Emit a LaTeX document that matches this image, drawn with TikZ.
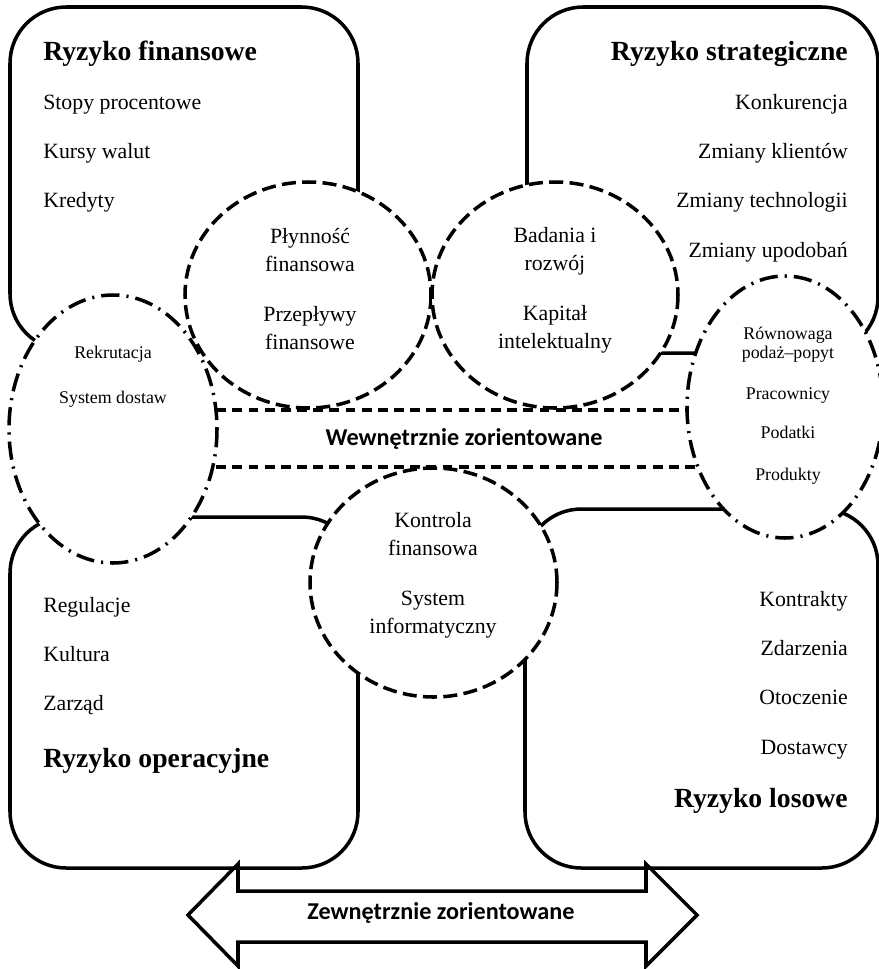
\documentclass[tikz,border=0pt]{standalone}
\usepackage{fontspec}
\setmainfont{Liberation Serif}
\newfontfamily\bannerfont{Carlito}
\tikzset{
    riskbox/.style={line width=2.5pt, rounded corners=40pt},
    dashring/.style={draw, fill=white, line width=2.5pt, dash pattern=on 10pt off 4.5pt},
    dotring/.style={draw, fill=white, line width=2.5pt, dash pattern=on 13pt off 5pt on 1.5pt off 5pt},
    innerline/.style={line width=2.5pt, dash pattern=on 7pt off 4.5pt},
    riskhead/.style={inner sep=0pt, font=\fontsize{19.7}{23}\selectfont\bfseries},
    riskitem/.style={inner sep=0pt, font=\fontsize{15.5}{18}\selectfont},
    sideitem/.style={inner sep=0pt, font=\fontsize{12.7}{15}\selectfont},
    banner/.style={inner sep=0pt, font=\bannerfont\bfseries\fontsize{17.2}{20}\selectfont}
}
\begin{document}
\begin{tikzpicture}[x=0.025cm, y=-0.025cm]
    \useasboundingbox (0,0) rectangle (879,969);
    \clip (0,0) rectangle (879,969);

    % Risk boxes
    \draw[riskbox] (10,7) rectangle (358,350);
    \draw[riskbox] (527,7) rectangle (878,353);
    \draw[riskbox] (10,517) rectangle (358,868);
    \draw[riskbox] (525,509) rectangle (878,868);

    % Outer arrow
    \draw[line width=2.5pt] (188,915) -- (238,864) -- (238,891) -- (646,891) -- (646,864)
        -- (697,915) -- (646,966) -- (646,942) -- (238,942) -- (238,966) -- cycle;

    % Inner band
    \draw[innerline] (200,410) -- (700,410);
    \draw[innerline] (200,467) -- (700,467);

    % Centres
    \coordinate (liq) at (308,295);
    \coordinate (rnd) at (555,295);
    \coordinate (ctl) at (433.5,582.5);
    \coordinate (hr) at (113,429);
    \coordinate (mkt) at (785,407);

    % Circles
    \draw[dotring] (hr) ellipse [x radius=104, y radius=134];
    \draw[dotring] (mkt) ellipse [x radius=98, y radius=131];
    \draw[dashring] (liq) ellipse [x radius=123, y radius=113];
    \draw[dashring] (rnd) ellipse [x radius=123, y radius=113];
    \draw[dashring] (ctl) ellipse [x radius=123.5, y radius=114.5];

    % Box texts
    \node[riskhead, anchor=base west] (finhead) at (43,60) {Ryzyko finansowe};
    \foreach \txt [count=\i] in {Stopy procentowe, Kursy walut, Kredyty}
        \node[riskitem, anchor=base west] (fin\i) at (43,60+49.3*\i) {\txt};

    \node[riskhead, anchor=base east] (strathead) at (848,60) {Ryzyko strategiczne};
    \foreach \txt [count=\i] in {Konkurencja, Zmiany klientów, Zmiany technologii, Zmiany upodobań}
        \node[riskitem, anchor=base east] (strat\i) at (848,60+49.3*\i) {\txt};

    \foreach \txt [count=\i] in {Regulacje, Kultura, Zarząd}
        \node[riskitem, anchor=base west] (oper\i) at (43,563+49.3*\i) {\txt};
    \node[riskhead, anchor=base west] (operhead) at (43,767) {Ryzyko operacyjne};

    \foreach \txt [count=\i] in {Kontrakty, Zdarzenia, Otoczenie, Dostawcy}
        \node[riskitem, anchor=base east] (rand\i) at (848,557+49.3*\i) {\txt};
    \node[riskhead, anchor=base east] (randhead) at (848,807) {Ryzyko losowe};

    % Circle texts
    \foreach \y/\txt [count=\i] in {243/Płynność, 271/finansowa, 321/Przepływy, 349/finansowe}
        \node[riskitem, anchor=base] (liq\i) at (310,\y) {\txt};
    \foreach \y/\txt [count=\i] in {242/Badania i, 270/rozwój, 320/Kapitał, 348/intelektualny}
        \node[riskitem, anchor=base] (rnd\i) at (555,\y) {\txt};
    \foreach \y/\txt [count=\i] in {527/Kontrola, 555/finansowa, 605/System, 633/informatyczny}
        \node[riskitem, anchor=base] (ctl\i) at (433,\y) {\txt};
    \foreach \y/\txt [count=\i] in {358/Rekrutacja, 403/System dostaw}
        \node[sideitem, anchor=base] (hr\i) at (113,\y) {\txt};
    \foreach \y/\txt [count=\i] in {339/Równowaga, 358/podaż–popyt, 399/Pracownicy, 438/Podatki, 480/Produkty}
        \node[sideitem, anchor=base] (mkt\i) at (788,\y) {\txt};

    % Band labels
    \node[banner, anchor=base] (inner) at (464,445) {Wewnętrznie zorientowane};
    \node[banner, anchor=base] (outer) at (441,919) {Zewnętrznie zorientowane};
\end{tikzpicture}
\end{document}
